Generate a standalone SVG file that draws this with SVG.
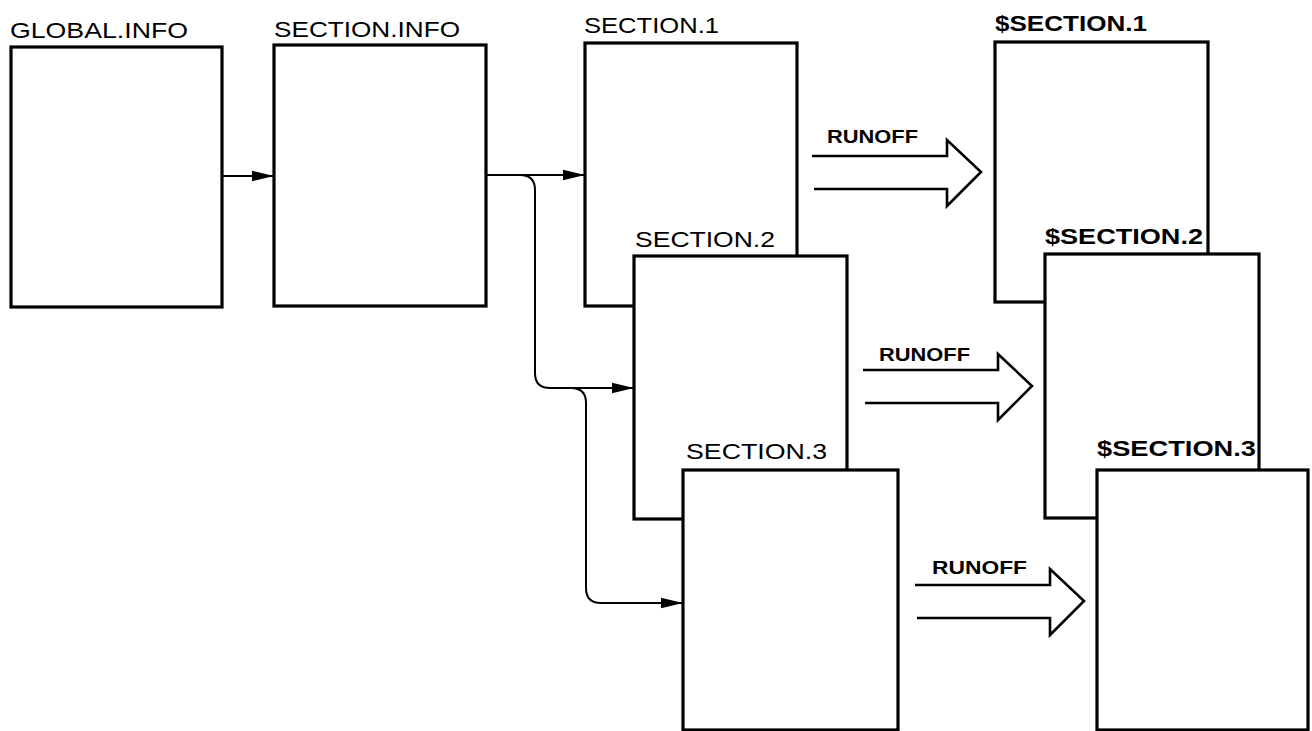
<svg xmlns="http://www.w3.org/2000/svg" width="1312" height="731" viewBox="0 0 1312 731">
<style>
.box{fill:#fff;stroke:#000;stroke-width:3.2;stroke-linejoin:miter}
.lbl{font-family:"Liberation Sans",Arial,sans-serif;font-size:22px;fill:#000}
.bold{font-weight:bold}
.conn{fill:none;stroke:#000;stroke-width:2}
.big{fill:none;stroke:#000;stroke-width:2.6;stroke-linejoin:miter}
.ro{font-family:"Liberation Sans",Arial,sans-serif;font-size:18px;font-weight:bold;fill:#000}
</style>
<defs>
<marker id="ah" markerUnits="userSpaceOnUse" markerWidth="22" markerHeight="12" refX="22" refY="6" orient="auto">
<path d="M0,0.8 L22,6 L0,11.2 z" fill="#000"/>
</marker>
<path id="runoff" class="big" d="M0,0 H135 V-16 L169,16 L135,50 V33 H2"/>
</defs>
<rect width="1312" height="731" fill="#fff"/>
<g id="global-info">
<rect class="box" x="11" y="47" width="211" height="260"/>
<text class="lbl" x="10" y="38" textLength="178" lengthAdjust="spacingAndGlyphs">GLOBAL.INFO</text>
</g>
<g id="section-info">
<rect class="box" x="274" y="45" width="212" height="261"/>
<text class="lbl" x="274" y="37" textLength="186" lengthAdjust="spacingAndGlyphs">SECTION.INFO</text>
</g>
<g id="section-1">
<rect class="box" x="585" y="43" width="212" height="263"/>
<text class="lbl" x="584" y="33" textLength="135" lengthAdjust="spacingAndGlyphs">SECTION.1</text>
</g>
<g id="section-2">
<rect class="box" x="634" y="256" width="213" height="263"/>
<text class="lbl" x="635" y="247" textLength="140" lengthAdjust="spacingAndGlyphs">SECTION.2</text>
</g>
<g id="section-3">
<rect class="box" x="683" y="470" width="215" height="260"/>
<text class="lbl" x="686" y="459" textLength="141" lengthAdjust="spacingAndGlyphs">SECTION.3</text>
</g>
<g id="dsection-1">
<rect class="box" x="995" y="42" width="213" height="260"/>
<text class="lbl bold" x="995" y="31" textLength="152" lengthAdjust="spacingAndGlyphs">$SECTION.1</text>
</g>
<g id="dsection-2">
<rect class="box" x="1045" y="254" width="214" height="264"/>
<text class="lbl bold" x="1045" y="244" textLength="158" lengthAdjust="spacingAndGlyphs">$SECTION.2</text>
</g>
<g id="dsection-3">
<rect class="box" x="1097" y="470" width="211" height="260"/>
<text class="lbl bold" x="1097" y="456" textLength="159" lengthAdjust="spacingAndGlyphs">$SECTION.3</text>
</g>
<g id="connectors">
<path class="conn" d="M222,176 H274" marker-end="url(#ah)"/>
<path class="conn" d="M486,175 H585" marker-end="url(#ah)"/>
<path class="conn" d="M520,175 Q535,175 535,190 V373 Q535,388 550,388 H634" marker-end="url(#ah)"/>
<path class="conn" d="M571,388 Q586,388 586,403 V588 Q586,603 601,603 H683" marker-end="url(#ah)"/>
<use href="#runoff" x="812" y="156"/>
<use href="#runoff" x="863" y="370"/>
<use href="#runoff" x="915" y="585"/>
<text class="ro" x="827" y="143" textLength="91" lengthAdjust="spacingAndGlyphs">RUNOFF</text>
<text class="ro" x="879" y="361" textLength="91" lengthAdjust="spacingAndGlyphs">RUNOFF</text>
<text class="ro" x="932" y="574" textLength="95" lengthAdjust="spacingAndGlyphs">RUNOFF</text>
</g>
</svg>
